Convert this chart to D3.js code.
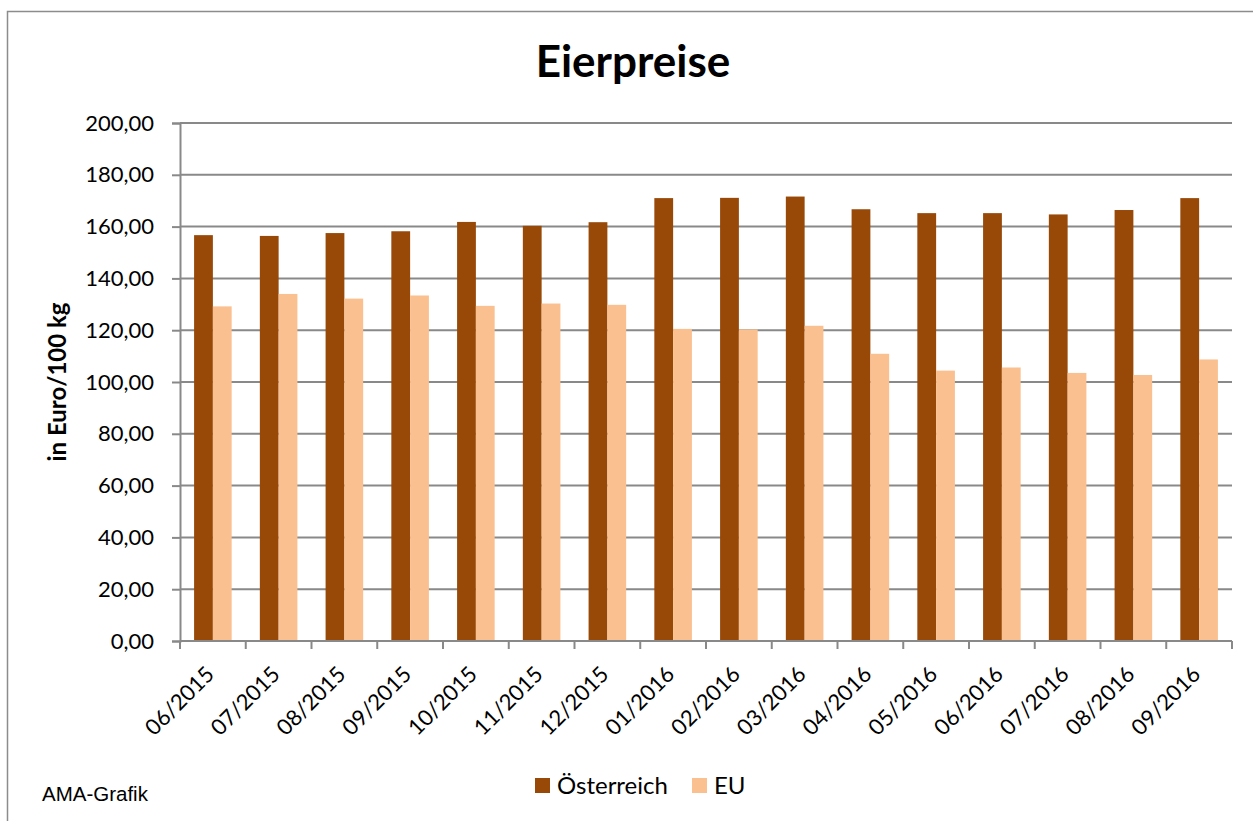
<!DOCTYPE html>
<html>
<head>
<meta charset="utf-8">
<script src="https://cdn.jsdelivr.net/npm/d3@7"></script>
<style>
  body { margin: 0; background: #fff; }
  svg { display: block; font-family: Lato, "Open Sans", sans-serif; }
</style>
</head>
<body>
<svg width="1253" height="821"></svg>
<script>
// Eierpreise, Euro/100 kg
var months = ["06/2015", "07/2015", "08/2015", "09/2015", "10/2015", "11/2015", "12/2015",
  "01/2016", "02/2016", "03/2016", "04/2016", "05/2016", "06/2016", "07/2016", "08/2016", "09/2016"];
var oesterreich = [156.7, 156.4, 157.5, 158.2, 161.8, 160.3, 161.7,
  171.0, 171.1, 171.6, 166.7, 165.2, 165.2, 164.7, 166.4, 171.0];
var eu = [129.2, 134.0, 132.2, 133.4, 129.4, 130.3, 129.8,
  120.5, 120.3, 121.7, 110.9, 104.4, 105.6, 103.5, 102.7, 108.7];
var yTicks = [0, 20, 40, 60, 80, 100, 120, 140, 160, 180, 200];
var seriesNames = ["Österreich", "EU"];
var colors = ["#984807", "#fac090"];

var svg = d3.select("svg"),
    margin = {top: 123, right: 21, bottom: 180, left: 180},
    width = 1253 - margin.left - margin.right,
    height = 821 - margin.top - margin.bottom,
    g = svg.append("g").attr("transform", "translate(" + margin.left + "," + margin.top + ")");

// outer frame (right and bottom edges run off the picture)
svg.append("rect")
    .attr("x", 7.5).attr("y", 11.5)
    .attr("width", 1260).attr("height", 830)
    .attr("fill", "none")
    .attr("stroke", "#8c8c8c")
    .attr("stroke-width", 1.5);

var x0 = d3.scaleBand().domain(months).range([0, width]);
var x1 = d3.scaleBand().domain(seriesNames)
    .range([0, x0.bandwidth()])
    .paddingOuter(0.75).paddingInner(0);
var y = d3.scaleLinear().domain([0, 200]).range([height, 0]);

// gridlines
g.append("g")
    .selectAll("line")
    .data(yTicks.slice(1))
    .join("line")
    .attr("x1", 0).attr("x2", width)
    .attr("y1", d => y(d)).attr("y2", d => y(d))
    .attr("stroke", "#898989")
    .attr("stroke-width", 2);

// bars
var groups = g.append("g")
    .selectAll("g")
    .data(months)
    .join("g")
    .attr("transform", d => "translate(" + x0(d) + ",0)");

groups.selectAll("rect")
    .data((d, i) => [
      {s: seriesNames[0], v: oesterreich[i], c: colors[0]},
      {s: seriesNames[1], v: eu[i], c: colors[1]}
    ])
    .join("rect")
    .attr("x", d => x1(d.s))
    .attr("width", x1.bandwidth())
    .attr("y", d => y(d.v))
    .attr("height", d => height - y(d.v))
    .attr("fill", d => d.c);

// y axis
var yAxis = g.append("g")
    .call(d3.axisLeft(y).tickValues(yTicks).tickSize(8).tickPadding(18)
      .tickFormat(d => d3.format(".2f")(d).replace(".", ",")));
yAxis.select(".domain").attr("stroke", "#898989").attr("stroke-width", 2);
yAxis.selectAll(".tick line").attr("stroke", "#898989").attr("stroke-width", 2);
yAxis.selectAll("text").attr("font-size", 22).attr("fill", "#000")
    .attr("font-family", "Lato, sans-serif");

// x axis: ticks at category boundaries
var xAxisG = g.append("g").attr("transform", "translate(0," + height + ")");
xAxisG.append("line")
    .attr("x1", 0).attr("x2", width)
    .attr("stroke", "#898989").attr("stroke-width", 2);
xAxisG.selectAll(".bound")
    .data(months.concat(["end"]))
    .join("line")
    .attr("class", "bound")
    .attr("x1", (d, i) => i < months.length ? x0(d) : width)
    .attr("x2", (d, i) => i < months.length ? x0(d) : width)
    .attr("y1", 0).attr("y2", 8)
    .attr("stroke", "#898989").attr("stroke-width", 2);
xAxisG.selectAll(".lbl")
    .data(months)
    .join("text")
    .attr("class", "lbl")
    .attr("transform", d => "translate(" + (x0(d) + x0.bandwidth() / 2 - 9) + ",23) rotate(-45)")
    .attr("text-anchor", "end")
    .attr("dy", "0.75em")
    .attr("font-size", 22)
    .attr("fill", "#000")
    .text(d => d);

// title
svg.append("text")
    .attr("x", 633).attr("y", 77)
    .attr("text-anchor", "middle")
    .attr("font-size", 44).attr("font-weight", "bold")
    .text("Eierpreise");

// y label
svg.append("text")
    .attr("transform", "translate(66," + (margin.top + height / 2) + ") rotate(-90)")
    .attr("text-anchor", "middle")
    .attr("font-size", 24).attr("font-weight", "bold")
    .text("in Euro/100 kg");

// legend
var legend = svg.append("g").attr("transform", "translate(535,786)");
var legendX = [0, 157];
seriesNames.forEach(function(name, i) {
  legend.append("rect")
      .attr("x", legendX[i]).attr("y", -8)
      .attr("width", 15).attr("height", 15)
      .attr("fill", colors[i]);
  legend.append("text")
      .attr("x", legendX[i] + 22).attr("y", 0)
      .attr("dy", "0.35em")
      .attr("font-size", 24)
      .text(name);
});

// source
svg.append("text")
    .attr("x", 42).attr("y", 801)
    .attr("font-family", "Liberation Sans, Arial, sans-serif")
    .attr("font-size", 20.5)
    .text("AMA-Grafik");
</script>
</body>
</html>
